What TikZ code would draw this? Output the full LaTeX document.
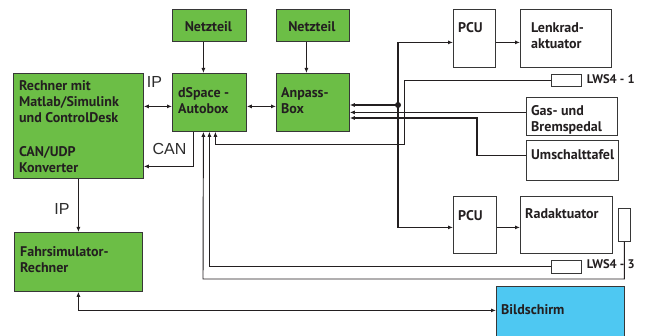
\documentclass[tikz,border=0pt]{standalone}
\usepackage{fontspec}
\setmainfont{PT Sans}
\newfontfamily\labfont{Liberation Sans}
\usetikzlibrary{arrows.meta,calc}
\definecolor{boxgreen}{RGB}{108,190,70}
\definecolor{boxcyan}{RGB}{78,200,242}
\definecolor{edgegray}{RGB}{55,55,55}
\definecolor{txtc}{RGB}{35,31,32}
\definecolor{labgray}{RGB}{45,45,45}
\begin{document}
\begin{tikzpicture}[x=1pt,y=-1pt,
  box/.style={draw=edgegray, line width=0.8pt, anchor=north west, inner sep=0pt},
  gbox/.style={box, fill=boxgreen},
  wbox/.style={box, fill=white},
  cbox/.style={box, fill=boxcyan},
  btext/.style={anchor=north west, inner sep=0pt, align=left, text=txtc,
    font=\bfseries\fontsize{14}{16}\selectfont},
  ctext/.style={anchor=north, inner sep=0pt, text=txtc,
    font=\bfseries\fontsize{14}{16}\selectfont},
  lwstext/.style={anchor=base west, inner sep=0pt, text=txtc,
    font=\bfseries\fontsize{12.5}{14}\selectfont},
  lab/.style={inner sep=0pt, text=labgray, font=\labfont\fontsize{16}{18}\selectfont},
  tip/.tip={Latex[length=5pt,width=4pt]},
  conn/.style={draw=txtc, line width=1.2pt},
  thinconn/.style={draw=txtc, line width=0.95pt},
]
\clip (0,0) rectangle (649,336);
\fill[white] (0,0) rectangle (649,336);

% boxes
\node[gbox, minimum width=130pt, minimum height=105pt] (rechner) at (13,73) {};
\node[gbox, minimum width=74pt, minimum height=32pt] (netz1) at (172,9) {};
\node[gbox, minimum width=73pt, minimum height=32pt] (netz2) at (276,9) {};
\node[gbox, minimum width=74pt, minimum height=58pt] (dspace) at (172,73) {};
\node[gbox, minimum width=73pt, minimum height=58pt] (anpass) at (276,73) {};
\node[wbox, minimum width=42pt, minimum height=58pt] (pcu1) at (453,9) {};
\node[wbox, minimum width=91pt, minimum height=58pt] (lenk) at (520,9) {};
\node[wbox, line width=0.7pt, minimum width=30pt, minimum height=12pt] (lws1) at (551,74) {};
\node[wbox, minimum width=91pt, minimum height=38pt] (gas) at (526,97) {};
\node[wbox, minimum width=92pt, minimum height=40pt] (umsch) at (526,140) {};
\node[wbox, minimum width=43pt, minimum height=57pt] (pcu2) at (453,196) {};
\node[wbox, minimum width=92pt, minimum height=57pt] (rad) at (520,196) {};
\node[wbox, line width=0.7pt, minimum width=12pt, minimum height=33pt] (lws3v) at (618,208) {};
\node[wbox, line width=0.7pt, minimum width=30pt, minimum height=13pt] (lws3) at (551,260) {};
\node[gbox, minimum width=128pt, minimum height=59pt] (fahr) at (14,232) {};
\node[cbox, minimum width=128pt, minimum height=60pt] (bild) at (496,286) {};

% box texts
\node[btext] (rechnert) at ($(rechner.north west)+(6,7)$) {Rechner mit\\Matlab/Simulink\\und ControlDesk\\[18pt]CAN/UDP\\Konverter};
\node[ctext] (netz1t) at ($(netz1.north)+(-1,12)$) {Netzteil};
\node[ctext] (netz2t) at ($(netz2.north)+(-1,12)$) {Netzteil};
\node[btext] (dspacet) at ($(dspace.north west)+(6,14)$) {dSpace -\\Autobox};
\node[btext] (anpasst) at ($(anpass.north west)+(5,14)$) {Anpass-\\Box};
\node[btext] (pcu1t) at ($(pcu1.north west)+(5,13)$) {PCU};
\node[btext] (lenkt) at ($(lenk.north west)+(11,14)$) {Lenkrad-\\aktuator};
\node[btext] (gast) at ($(gas.north west)+(5,8)$) {Gas- und\\Bremspedal};
\node[btext] (umscht) at ($(umsch.north west)+(5,9)$) {Umschalttafel};
\node[btext] (pcu2t) at ($(pcu2.north west)+(5,14)$) {PCU};
\node[btext] (radt) at ($(rad.north west)+(5,12)$) {Radaktuator};
\node[btext] (fahrt) at ($(fahr.north west)+(6,14)$) {Fahrsimulator-\\Rechner};
\node[btext] (bildt) at ($(bild.north west)+(5,18)$) {Bildschirm};
\node[lwstext] (lws1t) at ($(lws1.east)+(5,3.5)$) {LWS4 - 1};
\node[lwstext] (lws3t) at ($(lws3.east)+(5,2)$) {LWS4 - 3};

% connector labels
\node[lab] (ip1) at (154.5,82.5) {IP};
\node[lab] (can) at (169.5,149) {CAN};
\node[lab] (ip2) at (62,209) {IP};

% helper coordinates
\coordinate (dA) at ([yshift=-4pt]dspace.west);
\coordinate (canw) at ([yshift=-40.5pt]rechner.east);
\coordinate (dot) at (398,105);
\coordinate (p1in) at ([yshift=-4pt]pcu1.west);
\coordinate (p2in) at ([yshift=-2.5pt]pcu2.west);
\coordinate (p1out) at ([yshift=-4pt]pcu1.east);
\coordinate (p2out) at ([yshift=-2.5pt]pcu2.east);
\coordinate (gw) at ([yshift=4pt]gas.west);
\coordinate (uw) at (477,118);
\coordinate (l1w) at (404,144);
\coordinate (l3w) at (203,279);

% connectors
\draw[conn, tip-tip] (rechner.east |- dA) -- (dA);
\draw[conn, tip-tip] (dspace.east |- dA) -- (anpass.west |- dA);
\draw[conn, -tip] ([xshift=-6pt]netz1.south) -- ([xshift=-6pt]dspace.north);
\draw[conn, -tip] ([xshift=-6.5pt]netz2.south) -- ([xshift=-6.5pt]anpass.north);
\draw[conn, -tip] ([xshift=-16pt]dspace.south) |- (canw);
\draw[conn, -tip] (rechner.south) -- (fahr.north);
\draw[conn, tip-tip] ([yshift=6pt]bild.west) -| (fahr.south);
\draw[conn, -tip] (dot) -- (anpass.east |- dot);
\draw[conn, -tip] (dot) |- (p1in);
\draw[conn, -tip] (dot) |- (p2in);
\fill[txtc] (dot) circle (3pt);
\draw[conn, -tip] (p1out) -- (lenk.west |- p1out);
\draw[conn, -tip] (p2out) -- (rad.west |- p2out);
\draw[conn, -tip] (gw) -- (anpass.east |- gw);
\draw[conn, -tip] ([yshift=5pt]umsch.west) -| (uw) -- (anpass.east |- uw);
\draw[thinconn, -tip] (lws1.west) -| (l1w) -| ([xshift=6pt]dspace.south);
\draw[thinconn, -tip] (lws3.west) -| (dspace.south);
\draw[thinconn, -tip] (lws3v.south) |- (l3w) -- ([xshift=-6pt]dspace.south);
\end{tikzpicture}
\end{document}
